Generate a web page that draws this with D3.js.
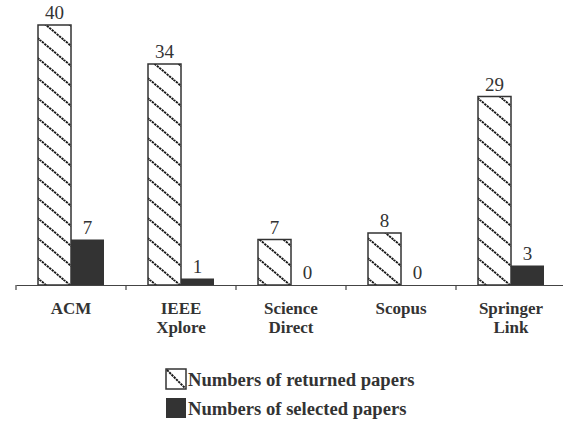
<!DOCTYPE html>
<html>
<head>
<meta charset="utf-8">
<script src="https://cdn.jsdelivr.net/npm/d3@7"></script>
<style>
  html, body { margin: 0; padding: 0; background: #fff; }
  svg { display: block; }
</style>
</head>
<body>
<div id="chart"></div>
<script>
const categories = [["ACM"], ["IEEE", "Xplore"], ["Science", "Direct"], ["Scopus"], ["Springer", "Link"]];
const returnedPapers = [40, 34, 7, 8, 29];
const selectedPapers = [7, 1, 0, 0, 3];
const seriesNames = ["Numbers of returned papers", "Numbers of selected papers"];

const W = 563, H = 421;
const FONT = '"Liberation Serif"';
const svg = d3.select("#chart").append("svg").attr("width", W).attr("height", H);

const defs = svg.append("defs");
const pat = defs.append("pattern")
  .attr("id", "hatch")
  .attr("patternUnits", "userSpaceOnUse")
  .attr("width", 24).attr("height", 20);
pat.append("rect").attr("width", 24).attr("height", 20).attr("fill", "#fff");
pat.append("path")
  .attr("d", "M-3,-2.5 L27,22.5 M-27,-2.5 L3,22.5 M21,-2.5 L51,22.5")
  .attr("stroke", "#1a1a1a").attr("stroke-width", 1.9)
  .attr("stroke-dasharray", "2.4,0.8").attr("fill", "none");

const baseY = 285;
const x0 = d3.scaleBand().domain(d3.range(categories.length)).range([16, 566]).padding(0);
const x1 = d3.scaleBand().domain([0, 1]).range([22, 88]).padding(0);
const y = d3.scaleLinear().domain([0, 40]).range([baseY, 25]);

const data = categories.map((c, i) => ({ i, vals: [returnedPapers[i], selectedPapers[i]] }));

const groups = svg.append("g").selectAll("g").data(data).join("g")
  .attr("transform", d => `translate(${x0(d.i)},0)`);

groups.selectAll("rect").data(d => d.vals.map((v, s) => ({ v, s }))).join("rect")
  .attr("x", d => x1(d.s))
  .attr("y", d => y(d.v))
  .attr("width", x1.bandwidth())
  .attr("height", d => baseY - y(d.v))
  .attr("fill", d => d.s === 0 ? "url(#hatch)" : "#333")
  .attr("stroke", d => d.s === 0 ? "#333" : "none")
  .attr("stroke-width", 1.5);

groups.selectAll("text.val").data(d => d.vals.map((v, s) => ({ v, s }))).join("text")
  .attr("class", "val")
  .style("font-family", FONT)
  .style("fill", "#333")
  .attr("x", d => x1(d.s) + x1.bandwidth() / 2)
  .attr("y", d => y(d.v) - 6)
  .attr("text-anchor", "middle")
  .attr("font-size", 19)
  .text(d => d.v);

// axis
const axis = d3.axisBottom(x0).tickSize(0).tickFormat("");
const ag = svg.append("g").attr("transform", `translate(0,${baseY})`).call(axis);
ag.select(".domain").attr("stroke", "#444").attr("stroke-width", 1.2);
const edges = d3.range(categories.length + 1).map(i => 16 + i * x0.step());
ag.selectAll("line.edge").data(edges).join("line")
  .attr("class", "edge")
  .attr("x1", d => d).attr("x2", d => d)
  .attr("y1", 0).attr("y2", 5)
  .attr("stroke", "#444").attr("stroke-width", 1.2);

// category labels
const labels = svg.append("g").selectAll("text").data(data).join("text")
  .style("font-family", FONT)
  .style("fill", "#333")
  .attr("x", d => x0(d.i) + x0.bandwidth() / 2)
  .attr("y", 314)
  .attr("text-anchor", "middle")
  .attr("font-size", 17)
  .attr("font-weight", "bold");
labels.selectAll("tspan").data(d => categories[d.i]).join("tspan")
  .attr("x", function() { return d3.select(this.parentNode).attr("x"); })
  .attr("dy", (d, k) => k === 0 ? 0 : 19)
  .text(d => d);

// legend
const lg = svg.append("g").selectAll("g").data(seriesNames).join("g")
  .attr("transform", (d, i) => `translate(166,${369 + i * 29})`);
lg.append("rect")
  .attr("width", 20).attr("height", 20)
  .attr("fill", (d, i) => i === 0 ? "#fff" : "#333")
  .attr("stroke", (d, i) => i === 0 ? "#333" : "none")
  .attr("stroke-width", 1.5);
lg.filter((d, i) => i === 0).append("line")
  .attr("x1", 1).attr("y1", 1).attr("x2", 19).attr("y2", 19)
  .attr("stroke", "#1a1a1a").attr("stroke-width", 1.9).attr("stroke-dasharray", "2.4,0.8");
lg.append("text")
  .style("font-family", FONT)
  .style("fill", "#333")
  .attr("x", 22).attr("y", 17)
  .attr("font-size", 18.6).attr("font-weight", "bold")
  .text(d => d);
</script>
</body>
</html>
